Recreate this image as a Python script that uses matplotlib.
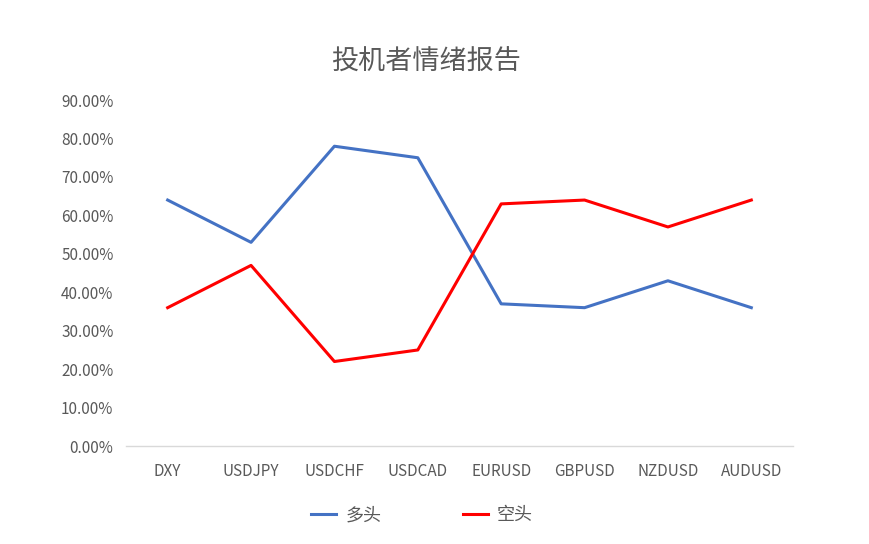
import matplotlib
matplotlib.use('Agg')
import matplotlib.pyplot as plt
from matplotlib.ticker import PercentFormatter

plt.rcParams['font.family'] = ['Noto Sans CJK SC', 'DejaVu Sans']

categories = ['DXY', 'USDJPY', 'USDCHF', 'USDCAD', 'EURUSD', 'GBPUSD', 'NZDUSD', 'AUDUSD']
longs = [0.64, 0.53, 0.78, 0.75, 0.37, 0.36, 0.43, 0.36]   # 多头
shorts = [0.36, 0.47, 0.22, 0.25, 0.63, 0.64, 0.57, 0.64]  # 空头

fig = plt.figure(figsize=(8.7, 5.44), dpi=100)
ax = fig.add_axes([0.1448, 0.180, 0.7667, 0.636])

x = range(len(categories))
ax.plot(x, longs, color='#4472C4', lw=2.2, label='多头', solid_joinstyle='round')
ax.plot(x, shorts, color='#FF0000', lw=2.2, label='空头', solid_joinstyle='round')

ax.set_xlim(-0.5, len(categories) - 0.5)
ax.set_ylim(0, 0.9)
ax.set_yticks([i / 10 for i in range(10)])
ax.yaxis.set_major_formatter(PercentFormatter(1.0, decimals=2))
ax.set_xticks(list(x))
ax.set_xticklabels(categories)

for s in ['top', 'right', 'left']:
    ax.spines[s].set_visible(False)
ax.spines['bottom'].set_color('#d9d9d9')
ax.spines['bottom'].set_linewidth(1)
ax.tick_params(length=0, labelsize=11, colors='#595959')
ax.tick_params(axis='x', pad=12)
ax.tick_params(axis='y', pad=9)

fig.text(0.490, 0.885, '投机者情绪报告', ha='center', va='center', fontsize=19.5, color='#595959')

leg = fig.legend(loc='center', bbox_to_anchor=(0.485, 0.053), ncol=2, frameon=False,
                 fontsize=13, handlelength=1.4, columnspacing=4.5, handletextpad=0.5)
for t in leg.get_texts():
    t.set_color('#595959')

fig.savefig('out.png', dpi=100)
